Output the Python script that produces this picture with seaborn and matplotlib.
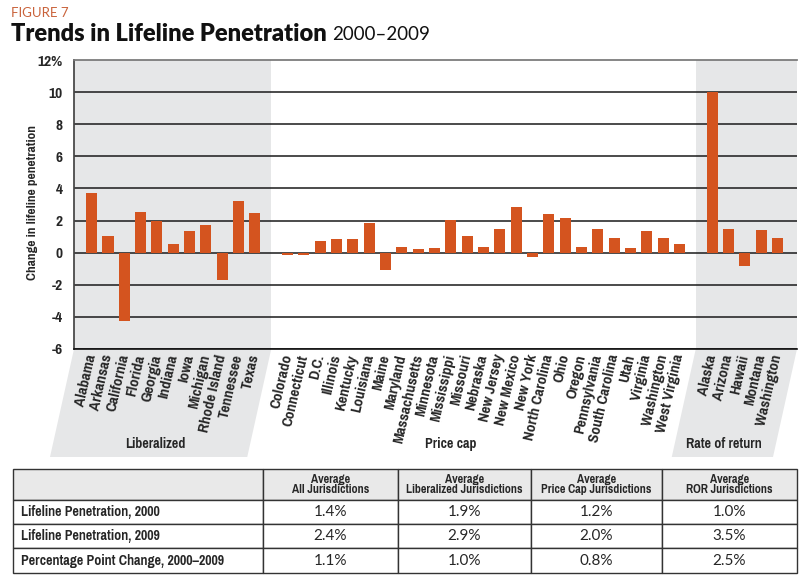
"""Figure 7: Trends in Lifeline Penetration 2000-2009."""

import matplotlib
matplotlib.use("Agg")
import matplotlib.pyplot as plt
from matplotlib import font_manager as fm
from matplotlib.patches import Polygon
import numpy as np
import pandas as pd
import seaborn as sns

liberalized = ["Alabama", "Arkansas", "California", "Florida", "Georgia", "Indiana",
               "Iowa", "Michigan", "Rhode Island", "Tennessee", "Texas"]
liberalized_vals = [3.71, 1.02, -4.23, 2.54, 2.0, 0.52, 1.33, 1.71, -1.73, 3.21, 2.46]

price_cap = ["Colorado", "Connecticut", "D.C.", "Illinois", "Kentucky", "Louisiana", "Maine",
             "Maryland", "Massachusetts", "Minnesota", "Mississippi", "Missouri", "Nebraska",
             "New Jersey", "New Mexico", "New York", "North Carolina", "Ohio", "Oregon",
             "Pennsylvania", "South Carolina", "Utah", "Virginia", "Washington", "West Virginia"]
price_cap_vals = [-0.17, -0.17, 0.71, 0.83, 0.83, 1.83, -1.10, 0.33, 0.21, 0.27, 2.02, 1.02,
                  0.33, 1.46, 2.83, -0.29, 2.38, 2.19, 0.37, 1.50, 0.94, 0.31, 1.33, 0.94, 0.56]

ror = ["Alaska", "Arizona", "Hawaii", "Montana", "Washington"]
ror_vals = [10.02, 1.50, -0.83, 1.40, 0.94]

group_names = ["Liberalized", "Price cap", "Rate of return"]

y_ticks = [-6, -4, -2, 0, 2, 4, 6, 8, 10, 12]
y_tick_labels = ["-6", "-4", "-2", "0", "2", "4", "6", "8", "10", "12%"]

table_header = ["", "Average\nAll Jurisdictions", "Average\nLiberalized Jurisdictions",
                "Average\nPrice Cap Jurisdictions", "Average\nROR Jurisdictions"]
table_rows = ["Lifeline Penetration, 2000", "Lifeline Penetration, 2009",
              "Percentage Point Change, 2000\u20132009"]
table_vals = [["1.4%", "1.9%", "1.2%", "1.0%"],
              ["2.4%", "2.9%", "2.0%", "3.5%"],
              ["1.1%", "1.0%", "0.8%", "2.5%"]]

BAR = "#d4541f"
SHADE = "#e6e7e8"
HEAD = ["Lato", "DejaVu Sans"]


def condensed_bold():
    """Look for any installed condensed / narrow bold face."""
    for key in ["sansnarrow-bold", "narrow-bold", "condensed-bold", "condensedbold", "cond-bold"]:
        for f in fm.fontManager.ttflist:
            p = f.fname.lower().replace(" ", "").replace("_", "")
            if key in p and "italic" not in p and "oblique" not in p and "semi" not in p:
                return fm.FontProperties(fname=f.fname)
    return None


COND = condensed_bold()
narrow = COND is not None
if COND is None:
    COND = fm.FontProperties(family="DejaVu Sans", weight="bold")


def cfp(size):
    fp = COND.copy()
    fp.set_size(size)
    return fp


sns.set_theme(style="white")
plt.rcParams["font.family"] = ["DejaVu Sans"]

# positions: one empty slot between the groups
frames = []
start = 0
for name, states, vals in [(group_names[0], liberalized, liberalized_vals),
                           (group_names[1], price_cap, price_cap_vals),
                           (group_names[2], ror, ror_vals)]:
    frames.append(pd.DataFrame({"group": name, "state": states, "value": vals,
                                "pos": np.arange(start, start + len(states))}))
    start += len(states) + 1
df = pd.concat(frames, ignore_index=True)

W, H = 811, 587
fig = plt.figure(figsize=(W / 100, H / 100), dpi=100)


def fx(px):
    return px / W


def fy(py):
    return 1 - py / H


ax = fig.add_axes([fx(74), fy(349), fx(797) - fx(74), fy(60) - fy(349)])
x_lo, x_hi = -1.08, df["pos"].max() + 1.2
lib_end = df.loc[df["group"] == group_names[0], "pos"].max() + 1
ror_start = df.loc[df["group"] == group_names[2], "pos"].min() - 1

ax.axvspan(x_lo, lib_end, color=SHADE, lw=0, zorder=0)
ax.axvspan(ror_start, x_hi, color=SHADE, lw=0, zorder=0)
for t in y_ticks[:-1]:
    ax.axhline(t, color="#1a1a1a", lw=1.1, zorder=1)

sns.barplot(data=df, x="pos", y="value", native_scale=True, color=BAR, saturation=1,
            width=0.68, linewidth=0, errorbar=None, ax=ax, zorder=3)

ax.set_xlim(x_lo, x_hi)
ax.set_ylim(-6, 12)
ax.set_yticks(y_ticks)
ax.set_yticklabels(y_tick_labels, fontproperties=cfp(12 if narrow else 9))
ax.set_xticks(df["pos"])
ax.set_xticklabels(df["state"], rotation=77, ha="right", va="center",
                   rotation_mode="anchor", fontproperties=cfp(12 if narrow else 7.6))
ax.tick_params(axis="x", length=0, pad=4)
ax.tick_params(axis="y", length=0, pad=8)
ax.set_xlabel("")
ax.set_ylabel("")
fig.text(fx(33), fy(203), "Change in lifeline penetration", rotation=90, ha="center",
         va="center", fontproperties=cfp(10.5 if narrow else 8))
ax.spines["right"].set_visible(False)
ax.spines["top"].set_color("#777777")
ax.spines["left"].set_color("#444444")
ax.spines["bottom"].set_color("#111111")
ax.spines["bottom"].set_linewidth(1.2)

# slanted shading below the axes, behind the state labels
to_fig = ax.transData + fig.transFigure.inverted()
slant_px, depth_px = 24, 108
for x0, x1 in [(x_lo, lib_end), (ror_start, x_hi)]:
    a = to_fig.transform((x0, -6))[0]
    b = to_fig.transform((x1, -6))[0]
    y_top = fy(349)
    y_bot = fy(349 + depth_px)
    poly = Polygon([(a, y_top), (b, y_top), (b - fx(slant_px), y_bot), (a - fx(slant_px), y_bot)],
                   closed=True, transform=fig.transFigure, facecolor=SHADE, lw=0, zorder=-1)
    fig.patches.append(poly)

for name, xc in zip(group_names, [155, 451, 724]):
    fig.text(fx(xc), fy(444), name, ha="center", va="center",
             fontproperties=cfp(11 if narrow else 9))

# titles
fig.text(fx(11), fy(13), "FIGURE 7", color="#c9623a", fontsize=9.5,
         family=HEAD, va="center", ha="left")
t1 = fig.text(fx(11), fy(34), "Trends in Lifeline Penetration", fontsize=17, fontweight="heavy",
              family=HEAD, va="center", ha="left", color="#111111")
fig.canvas.draw()
bb = t1.get_window_extent()
fig.text(bb.x1 / W + fx(5), fy(35), "2000\u20132009", fontsize=13.5, family=HEAD,
         va="center", ha="left", color="#111111")

# summary table
tax = fig.add_axes([fx(12.5), fy(573), fx(797) - fx(12.5), fy(469) - fy(573)])
tax.axis("off")
cells = [table_header] + [[r] + v for r, v in zip(table_rows, table_vals)]
col_w = [250, 135, 133, 131, 135]
row_h = [31, 24, 24, 24.5]
tbl = tax.table(cellText=cells, bbox=[0, 0, 1, 1], cellLoc="center")
tbl.auto_set_font_size(False)
for (r, c), cell in tbl.get_celld().items():
    cell.set_width(col_w[c])
    cell.set_height(row_h[r])
    cell.set_edgecolor("#333333")
    cell.set_linewidth(1.0)
    txt = cell.get_text()
    if r == 0:
        cell.set_facecolor("#e9e9e9")
        txt.set_fontproperties(cfp(9.5 if narrow else 7))
        txt.set_linespacing(0.95)
    elif c == 0:
        txt.set_fontproperties(cfp(11 if narrow else 8.5))
        cell._loc = "left"
        cell.PAD = 0.035
        txt.set_ha("left")
    else:
        txt.set_fontsize(11)
        txt.set_family(HEAD)

fig.savefig("out.png", dpi=100)
